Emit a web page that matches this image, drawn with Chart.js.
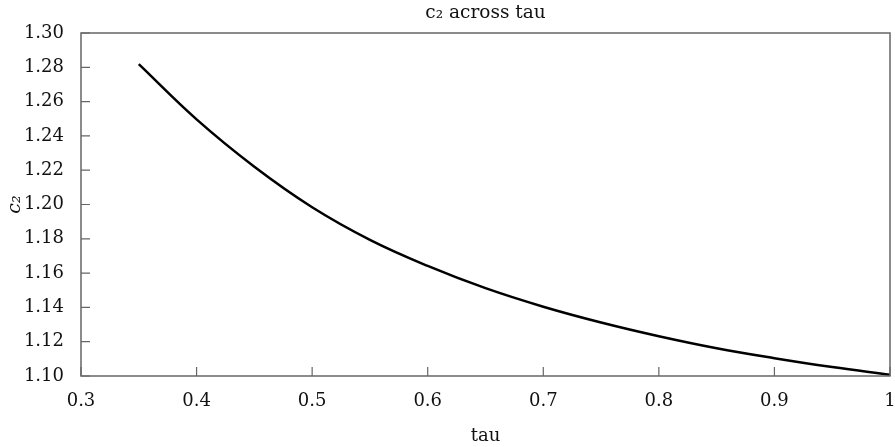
<!DOCTYPE html>
<html>
<head>
<meta charset="utf-8">
<script src="https://cdn.jsdelivr.net/npm/chart.js@4"></script>
<style>
  html, body { margin: 0; padding: 0; background: #fff; }
  #wrap { width: 895px; height: 447px; }
</style>
</head>
<body>
<div id="wrap"><canvas id="result"></canvas></div>
<script>
// values
const tau = [0.35, 0.40, 0.45, 0.50, 0.55, 0.60, 0.65, 0.70, 0.75, 0.80, 0.85, 0.90, 0.95, 1.00]
const c2 = [1.2818, 1.2496, 1.2220, 1.1984, 1.1794, 1.1642, 1.1512, 1.1404, 1.1312, 1.1232, 1.1162, 1.1104, 1.1052, 1.1007]
const xTicks = [0.3, 0.4, 0.5, 0.6, 0.7, 0.8, 0.9, 1.0]
const yTicks = [1.10, 1.12, 1.14, 1.16, 1.18, 1.20, 1.22, 1.24, 1.26, 1.28, 1.30]

const FONT = "'DejaVu Serif', serif"
const frameColor = '#666'
const textColor = '#111'

// box around the plot plus inward ticks on left and bottom
const frameTicks = {
  id: 'frameTicks',
  afterDraw(chart) {
    const { ctx, chartArea: { left, right, top, bottom }, scales: { x, y } } = chart
    ctx.save()
    ctx.strokeStyle = frameColor
    ctx.lineWidth = 1.5
    ctx.strokeRect(left, top, right - left, bottom - top)
    ctx.lineWidth = 1.2
    ctx.beginPath()
    xTicks.forEach((v) => {
      const px = x.getPixelForValue(v)
      ctx.moveTo(px, bottom)
      ctx.lineTo(px, bottom - 9)
    })
    yTicks.forEach((v) => {
      const py = y.getPixelForValue(v)
      ctx.moveTo(left, py)
      ctx.lineTo(left + 9, py)
    })
    ctx.stroke()
    ctx.restore()
  }
}

const ctx = document.getElementById('result').getContext('2d')
new Chart(ctx, {
  type: 'line',
  data: {
    datasets: [{
      data: tau.map((t, i) => ({ x: t, y: c2[i] })),
      borderColor: '#000',
      borderWidth: 2.5,
      pointRadius: 0,
      tension: 0.4,
      fill: false
    }]
  },
  options: {
    responsive: true,
    maintainAspectRatio: false,
    animation: false,
    layout: { padding: 0 },
    plugins: {
      legend: { display: false },
      tooltip: { enabled: false },
      title: {
        display: true,
        text: 'c\u2082 across tau',
        fullSize: false,
        color: textColor,
        font: { family: FONT, size: 18.5, weight: 'normal' },
        padding: { top: 2, bottom: 8.8 }
      }
    },
    scales: {
      x: {
        type: 'linear',
        min: 0.3,
        max: 1.0,
        afterFit: (s) => {
          s.height = 71
          s.paddingLeft = 0
          s.paddingRight = 5
        },
        afterBuildTicks: (s) => { s.ticks = xTicks.map((v) => ({ value: v })) },
        grid: { display: false },
        border: { display: false },
        ticks: {
          color: textColor,
          padding: 7,
          font: { family: FONT, size: 18 },
          callback: (v) => String(Number(v.toFixed(1)))
        },
        title: {
          display: true,
          text: 'tau',
          color: textColor,
          font: { family: FONT, size: 18 },
          padding: { top: 2, bottom: 0 }
        }
      },
      y: {
        type: 'linear',
        min: 1.1,
        max: 1.3,
        afterFit: (s) => { s.width = 81 },
        afterBuildTicks: (s) => { s.ticks = yTicks.map((v) => ({ value: v })) },
        grid: { display: false },
        border: { display: false },
        ticks: {
          color: textColor,
          padding: 9,
          font: { family: FONT, size: 18 },
          callback: (v) => v.toFixed(2)
        },
        title: {
          display: true,
          text: 'c\u2082',
          color: textColor,
          font: { family: FONT, size: 19, style: 'italic' },
          padding: { top: 4, bottom: 0 }
        }
      }
    }
  },
  plugins: [frameTicks]
})
</script>
</body>
</html>
